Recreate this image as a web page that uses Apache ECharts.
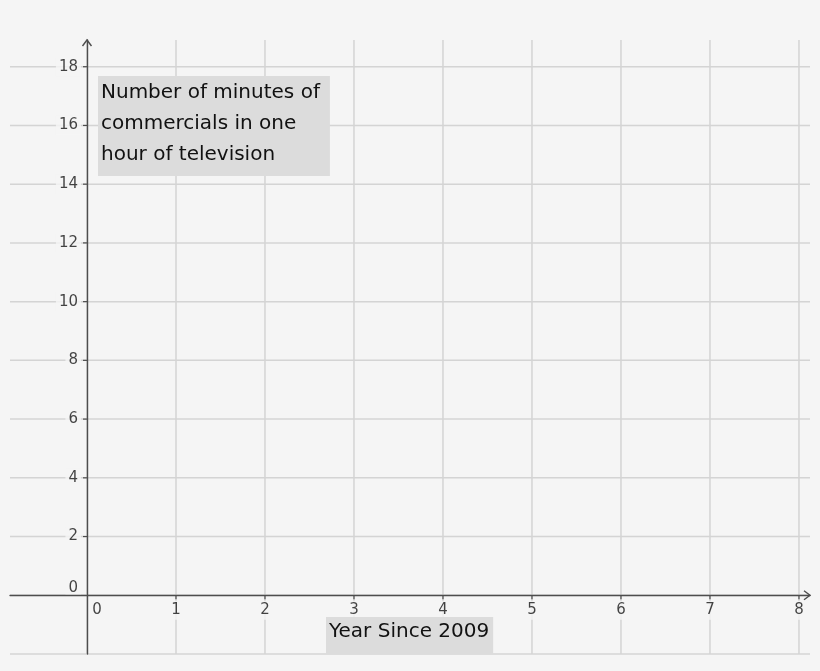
<!DOCTYPE html>
<html>
<head>
<meta charset="utf-8">
<script src="https://cdn.jsdelivr.net/npm/echarts/dist/echarts.min.js"></script>
<style>
html,body{margin:0;padding:0;background:#f5f5f5;}
#main{width:820px;height:671px;}
</style>
</head>
<body>
<div id="main"></div>
<script>
// ---- data ----
const xGridValues = [0, 1, 2, 3, 4, 5, 6, 7, 8];
const xTickLabels = ['0', '1', '2', '3', '4', '5', '6', '7', '8'];
const yGridValues = [-2, 0, 2, 4, 6, 8, 10, 12, 14, 16, 18];
const yTickValues = [0, 2, 4, 6, 8, 10, 12, 14, 16, 18];
const yTickLabels = ['0', '2', '4', '6', '8', '10', '12', '14', '16', '18'];
const xRange = [-0.865, 8.124];
const yRange = [-2, 18.91];
const chartTitle = 'Number of minutes of\ncommercials in one\nhour of television';
const xAxisTitle = 'Year Since 2009';

// ---- styles ----
const BG = '#f5f5f5';
const GRID = '#d4d4d4';
const AXIS = '#4d4d4d';
const LABEL = '#151515';
const BOX = '#dcdcdc';
const FONT = 'DejaVu Sans';

const chart = echarts.init(document.getElementById('main'));

function gridLineV(params, api) {
  const x = api.value(0);
  const a = api.coord([x, yRange[1]]);
  const b = api.coord([x, yRange[0]]);
  return { type: 'line', shape: { x1: a[0], y1: a[1], x2: b[0], y2: b[1] },
    style: { stroke: GRID, lineWidth: 1.5 } };
}
function gridLineH(params, api) {
  const y = api.value(1);
  const a = api.coord([xRange[0], y]);
  const b = api.coord([xRange[1], y]);
  return { type: 'line', shape: { x1: a[0], y1: a[1], x2: b[0], y2: b[1] },
    style: { stroke: GRID, lineWidth: 1.5 } };
}
function tickX(params, api) {
  const p = api.coord([api.value(0), 0]);
  return { type: 'line', shape: { x1: p[0], y1: p[1], x2: p[0], y2: p[1] + 4 },
    style: { stroke: AXIS, lineWidth: 1.2 } };
}
function tickY(params, api) {
  const p = api.coord([0, api.value(1)]);
  return { type: 'line', shape: { x1: p[0] - 4, y1: p[1], x2: p[0], y2: p[1] },
    style: { stroke: AXIS, lineWidth: 1.2 } };
}
function arrows(params, api) {
  const dir = api.value(2);
  const p = api.coord([api.value(0), api.value(1)]);
  let pts;
  if (dir === 1) {
    pts = [[p[0] - 6, p[1] - 4.5], [p[0], p[1]], [p[0] - 6, p[1] + 4.5]];
  } else {
    pts = [[p[0] - 4.5, p[1] + 6], [p[0], p[1]], [p[0] + 4.5, p[1] + 6]];
  }
  return { type: 'polyline', shape: { points: pts },
    style: { stroke: AXIS, lineWidth: 1.4, fill: null } };
}

const xLabelData = xTickLabels.map((t, i) => ({
  name: t,
  value: [xGridValues[i], 0],
  label: { offset: i === 0 ? [10, 15] : [0, 15] }
}));
const yLabelData = yTickLabels.map((t, i) => ({
  name: t,
  value: [0, yTickValues[i]],
  label: { offset: yTickValues[i] === 0 ? [0, -7] : [0, 0] }
}));

const labelStyle = {
  show: true,
  formatter: '{b}',
  color: LABEL,
  fontFamily: FONT,
  fontSize: 15,
  backgroundColor: BG,
  padding: [2, 3]
};

chart.setOption({
  animation: false,
  backgroundColor: BG,
  title: [
    {
      text: chartTitle,
      left: 98, top: 76,
      padding: [1, 10, 6, 3],
      backgroundColor: BOX,
      textStyle: { fontFamily: FONT, fontSize: 20, fontWeight: 'normal', color: '#111', lineHeight: 31 }
    },
    {
      text: xAxisTitle,
      left: 326, top: 617,
      padding: [3, 4, 10, 3],
      backgroundColor: BOX,
      textStyle: { fontFamily: FONT, fontSize: 20, fontWeight: 'normal', color: '#111', lineHeight: 24 }
    }
  ],
  grid: { left: 10, right: 10, top: 40, bottom: 17, containLabel: false },
  xAxis: {
    type: 'value', min: xRange[0], max: xRange[1], z: 10,
    axisLine: { show: true, onZero: true, lineStyle: { color: AXIS, width: 1.4 } },
    axisTick: { show: false }, axisLabel: { show: false }, splitLine: { show: false }
  },
  yAxis: {
    type: 'value', min: yRange[0], max: yRange[1], z: 10,
    axisLine: { show: true, onZero: true, lineStyle: { color: AXIS, width: 1.4 } },
    axisTick: { show: false }, axisLabel: { show: false }, splitLine: { show: false }
  },
  series: [
    { type: 'custom', z: 1, silent: true, renderItem: gridLineV, data: xGridValues.map(v => [v, 0]) },
    { type: 'custom', z: 1, silent: true, renderItem: gridLineH, data: yGridValues.map(v => [0, v]) },
    {
      type: 'scatter', z: 3, silent: true, symbolSize: 0,
      label: Object.assign({ position: 'inside' }, labelStyle),
      data: xLabelData
    },
    {
      type: 'scatter', z: 3, silent: true, symbolSize: 0,
      label: Object.assign({ position: 'left', distance: 6 }, labelStyle),
      data: yLabelData
    },
    { type: 'custom', z: 4, silent: true, renderItem: tickX, data: xGridValues.filter(v => v !== 0).map(v => [v, 0]) },
    { type: 'custom', z: 4, silent: true, renderItem: tickY, data: yTickValues.filter(v => v !== 0).map(v => [0, v]) },
    { type: 'custom', z: 11, silent: true, renderItem: arrows, data: [[xRange[1], 0, 1], [0, yRange[1], 2]] }
  ]
});
</script>
</body>
</html>
